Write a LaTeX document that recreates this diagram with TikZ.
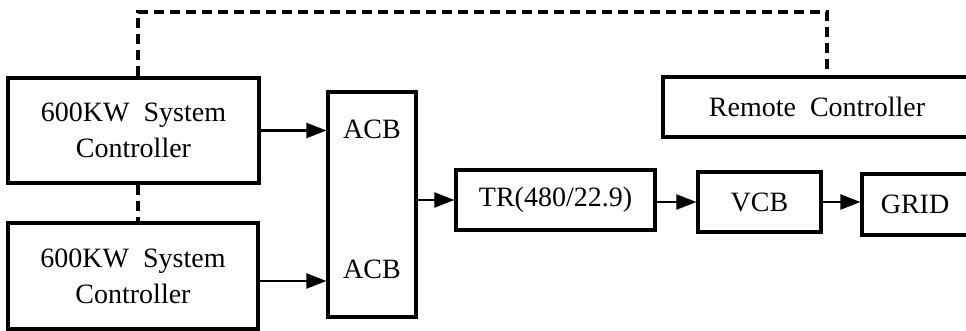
\documentclass[tikz,border=0pt]{standalone}
\usepackage{fontspec}
\setmainfont{Liberation Serif}
\usetikzlibrary{arrows.meta,calc}
\begin{document}
\begin{tikzpicture}[x=1pt,y=-1pt,
  box/.style={draw, line width=3.2pt, inner sep=0pt, font=\fontsize{28}{36}\selectfont, align=center},
  txt/.style={inner sep=0pt, font=\fontsize{28}{36}\selectfont},
  arr/.style={line width=2.2pt, -{Triangle[length=20pt,width=15pt]}},
  dsh/.style={line width=3.2pt, dash pattern=on 10pt off 6pt}]
\useasboundingbox (0,0) rectangle (966,331);
\clip (0,0) rectangle (966,331);
\node[box, minimum width=251pt, minimum height=105pt] (b1) at (133.5,130.5) {600KW\ \ System\\Controller};
\node[box, minimum width=250pt, minimum height=106pt] (b2) at (133,276) {600KW\ \ System\\Controller};
\node[box, minimum width=88pt, minimum height=225pt] (acb) at (372,204.5) {};
\node[txt, anchor=base] (acb1) at (372,139) {ACB};
\node[txt, anchor=base] (acb2) at (372,278) {ACB};
\node[box, minimum width=199pt, minimum height=60pt] (tr) at (555.5,200) {TR(480/22.9)};
\node[box, minimum width=123pt, minimum height=60pt] (vcb) at (759.5,202) {VCB};
\node[box, minimum width=106pt, minimum height=61pt] (grid) at (915,204.5) {GRID};
\node[box, minimum width=308pt, minimum height=60pt] (rc) at (817,107) {Remote\ \ Controller};
\draw[arr] (b1.east) -- (b1.east -| acb.west);
\draw[arr] ($(b2.east)+(0,5)$) -- ($(b2.east -| acb.west)+(0,5)$);
\draw[arr] (acb.east |- tr.west) -- (tr.west);
\draw[arr] (vcb.west -| tr.east) -- (vcb.west);
\draw[arr] (vcb.east) -- (vcb.east -| grid.west);
\coordinate (t1) at (138,12);
\coordinate (t2) at (827,12);
\draw[dsh] (b1.north -| t1) -- (t1) -- (t2) -- (t2 |- rc.north);
\draw[dsh] (b1.south -| t1) -- (b2.north -| t1);
\end{tikzpicture}
\end{document}
